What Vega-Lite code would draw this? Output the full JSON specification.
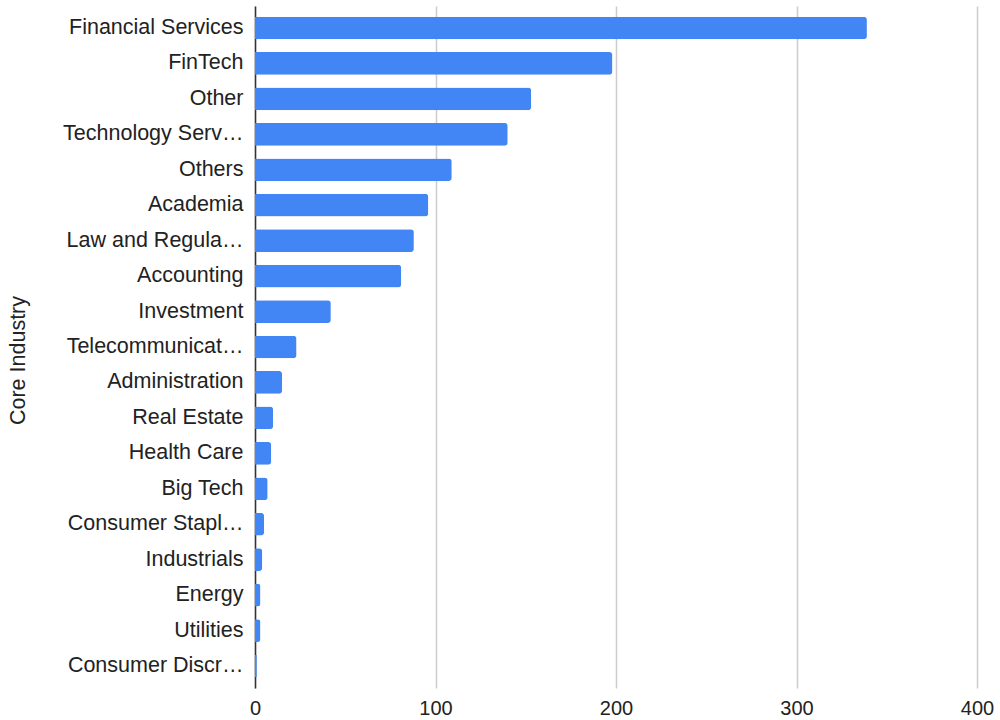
{
  "$schema": "https://vega.github.io/schema/vega-lite/v6.json",
  "autosize": {"type": "none"},
  "width": 722,
  "height": 682,
  "padding": {"left": 255, "top": 6, "right": 23, "bottom": 32},
  "background": "white",
  "config": {
    "view": {"stroke": null},
    "font": "Liberation Sans"
  },
  "data": {
    "values": [
      {"industry": "Financial Services", "count": 339},
      {"industry": "FinTech", "count": 198},
      {"industry": "Other", "count": 153},
      {"industry": "Technology Serv…", "count": 140},
      {"industry": "Others", "count": 109},
      {"industry": "Academia", "count": 96},
      {"industry": "Law and Regula…", "count": 88},
      {"industry": "Accounting", "count": 81},
      {"industry": "Investment", "count": 42},
      {"industry": "Telecommunicat…", "count": 23},
      {"industry": "Administration", "count": 15},
      {"industry": "Real Estate", "count": 10},
      {"industry": "Health Care", "count": 9},
      {"industry": "Big Tech", "count": 7},
      {"industry": "Consumer Stapl…", "count": 5},
      {"industry": "Industrials", "count": 4},
      {"industry": "Energy", "count": 3},
      {"industry": "Utilities", "count": 3},
      {"industry": "Consumer Discr…", "count": 1}
    ]
  },
  "mark": {"type": "bar", "color": "#4285F4", "cornerRadiusEnd": 3},
  "encoding": {
    "y": {
      "field": "industry",
      "type": "nominal",
      "sort": null,
      "scale": {"paddingInner": 0.36, "paddingOuter": 0.3},
      "axis": {
        "title": "Core Industry",
        "titleFontSize": 21.5,
        "titleFontWeight": "normal",
        "titleColor": "#222",
        "titleX": -237,
        "titleY": 354,
        "titleAngle": -90,
        "titleAlign": "center",
        "titleBaseline": "middle",
        "labelFontSize": 21.5,
        "labelColor": "#222",
        "labelPadding": 12,
        "labelLimit": 300,
        "ticks": false,
        "domainColor": "#333",
        "domainWidth": 1.5,
        "grid": false
      }
    },
    "x": {
      "field": "count",
      "type": "quantitative",
      "scale": {"domain": [0, 400], "nice": false},
      "axis": {
        "title": null,
        "values": [0, 100, 200, 300, 400],
        "labelFontSize": 20,
        "labelColor": "#222",
        "labelPadding": 10,
        "labelFlush": false,
        "ticks": false,
        "domain": false,
        "grid": true,
        "gridColor": "#cccccc",
        "gridWidth": 1.5
      }
    }
  }
}
